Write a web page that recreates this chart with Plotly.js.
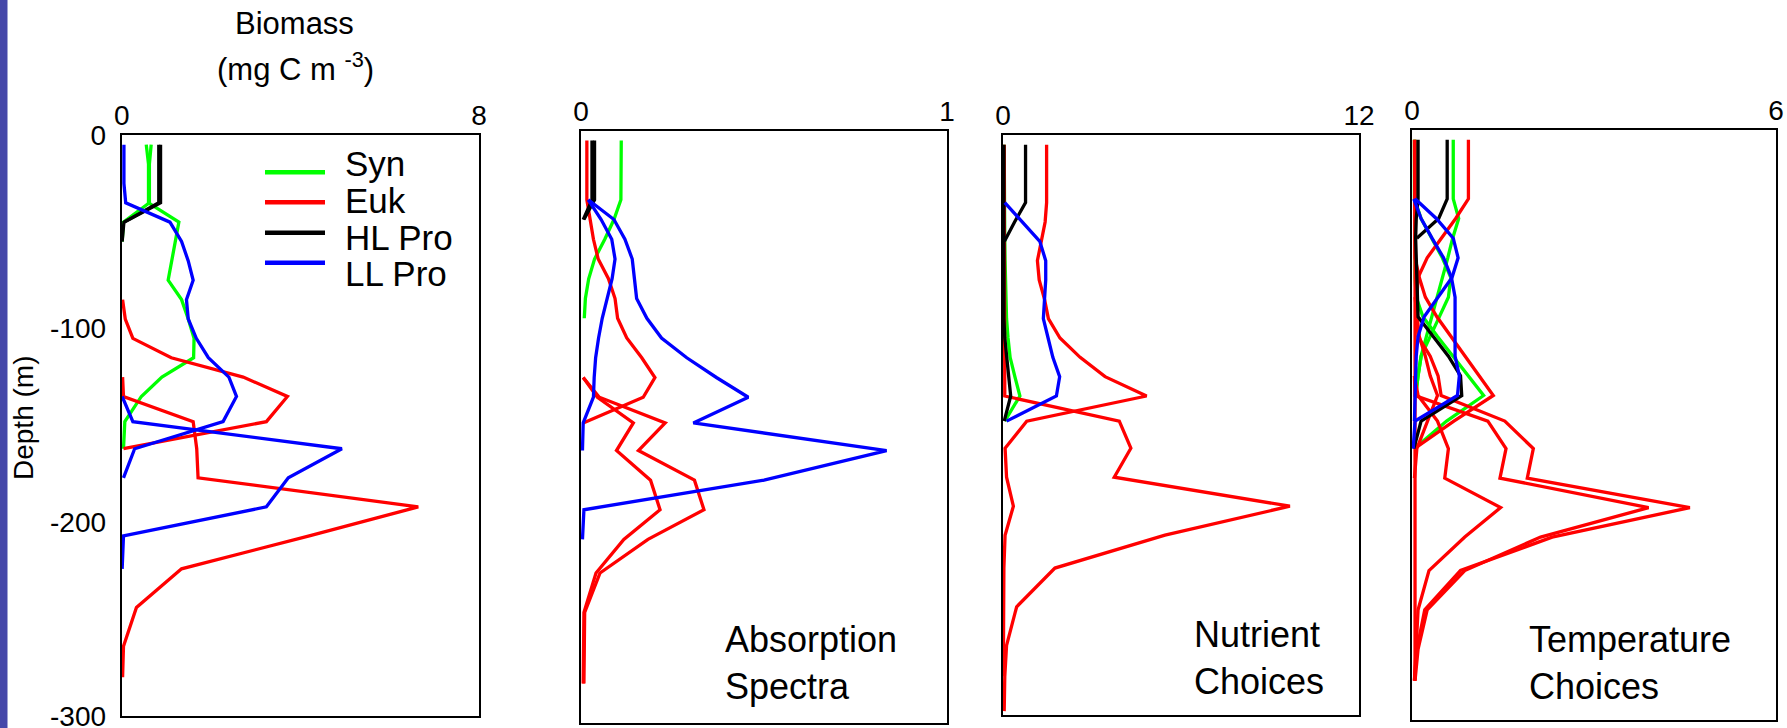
<!DOCTYPE html>
<html><head><meta charset="utf-8">
<script src="https://cdn.plot.ly/plotly-3.0.1.min.js"></script>
<style>html,body{margin:0;padding:0;background:#fff;overflow:hidden}#chart{width:1787px;height:728px}</style>
</head><body><div id="chart"></div>
<script>
const N = null;
// model depth levels (m)
const depth = [-5,-15,-25,-35,-45,-55,-65,-75,-85,-95,-105,-115,-125,-135,-148,-162,-177,-192,-207,-224,-244,-264,-280,-298];

// Panel 1: Biomass (mg C m-3)
const bioSyn1 = [.55,.6,.6,.6,1.28,1.2,1.12,1.04,1.34,1.49,1.62,1.61,.9,.44,.07,.04,N,N,N,N,N,N,N,N];
const bioSyn2 = [.66,.62,.62,.62,.04,.01,N,N,N,N,N,N,N,N,N,N,N,N,N,N,N,N,N,N];
const bioEuk1 = [N,N,N,N,N,N,N,N,.02,.08,.25,1.11,2.72,3.71,3.24,.04,N,N,N,N,N,N,N,N];
const bioEuk2 = [N,N,N,N,N,N,N,N,N,N,N,N,.02,.04,1.6,1.68,1.71,6.64,4.2,1.34,.33,.04,.02,N];
const bioHL1  = [.83,.83,.83,.83,.05,.01,N,N,N,N,N,N,N,N,N,N,N,N,N,N,N,N,N,N];
const bioHL2  = [.87,.87,.87,.87,.06,N,N,N,N,N,N,N,N,N,N,N,N,N,N,N,N,N,N,N];
const bioLL1  = [.05,.05,.05,.09,1.08,1.34,1.49,1.6,1.45,1.49,1.67,1.94,2.4,2.57,2.27,.29,.04,N,N,N,N,N,N,N];
const bioLL2  = [N,N,N,N,N,N,N,N,N,N,N,N,N,.01,.25,4.93,3.73,3.24,.04,.01,N,N,N,N];

// Panel 2: Absorption Spectra
const absSyn1 = [.11,.109,.109,.109,.09,.065,.037,.021,.012,.009,N,N,N,N,N,N,N,N,N,N,N,N,N,N];
const absEuk1 = [.016,.016,.016,.016,.025,.034,.047,.075,.093,.1,.125,.166,.202,.17,.006,N,N,N,N,N,N,N,N,N];
const absEuk2 = [N,N,N,N,N,N,N,N,N,N,N,N,.006,.05,.23,.157,.31,.336,.183,.052,.01,.008,.008,N];
const absEuk3 = [N,N,N,N,N,N,N,N,N,N,N,N,.006,.045,.143,.097,.19,.216,.117,.041,.008,.006,.006,N];
const absHL1  = [.030,.030,.030,.030,.006,N,N,N,N,N,N,N,N,N,N,N,N,N,N,N,N,N,N,N];
const absHL2  = [.037,.037,.037,.037,.008,N,N,N,N,N,N,N,N,N,N,N,N,N,N,N,N,N,N,N];
const absLL1  = [N,N,N,.02,.09,.12,.14,.146,.152,.18,.22,.289,.37,.457,.307,.835,.5,.008,.004,N,N,N,N,N];
const absLL2  = [N,N,N,.02,.055,.084,.093,.085,.072,.058,.048,.04,.036,.034,.006,.004,N,N,N,N,N,N,N,N];

// Panel 3: Nutrient Choices
const nutSyn1 = [.04,.04,.04,.04,.05,.06,.07,.08,.1,.12,.17,.24,.4,.57,.06,N,N,N,N,N,N,N,N,N];
const nutEuk1 = [1.47,1.47,1.47,1.47,1.42,1.3,1.16,1.22,1.4,1.53,1.92,2.6,3.44,4.84,.8,.07,.12,.35,.07,.03,.02,.01,.01,N];
const nutEuk2 = [.04,.04,.04,.04,.04,.04,.04,.04,.04,.04,.04,.04,.05,.06,3.92,4.31,3.75,9.67,5.46,1.75,.46,.12,.06,.04];
const nutHL1  = [.76,.76,.76,.76,.39,.05,N,N,N,N,N,N,N,N,N,N,N,N,N,N,N,N,N,N];
const nutHL2  = [.03,.03,.03,.03,.03,.03,.03,.03,.03,.03,.06,.12,.2,.26,.04,N,N,N,N,N,N,N,N,N];
const nutLL1  = [N,N,N,.06,.65,1.24,1.44,1.44,1.4,1.36,1.52,1.68,1.91,1.8,.12,N,N,N,N,N,N,N,N,N];

// Panel 4: Temperature Choices
const tmpSyn1 = [.68,.68,.68,.68,.77,.67,.59,.5,.42,.33,.24,.15,.1,.06,N,N,N,N,N,N,N,N,N,N];
const tmpSyn2 = [.04,.04,.04,.04,.15,.32,.5,.64,.6,.45,.3,.15,.1,.06,N,N,N,N,N,N,N,N,N,N];
const tmpSyn3 = [.05,.05,.05,.05,.05,.05,.05,.05,.07,.18,.42,.67,.93,1.18,.57,.04,N,N,N,N,N,N,N,N];
const tmpEuk1 = [.93,.93,.93,.93,.72,.48,.25,.1,.08,.08,.1,.3,.43,.48,1.53,2.0,1.9,4.58,2.31,.8,.21,.08,.04,N];
const tmpEuk2 = [.04,.04,.04,.04,.04,.04,.05,.12,.22,.41,.64,.88,1.11,1.34,.69,.04,N,N,N,N,N,N,N,N];
const tmpEuk3 = [N,N,N,N,N,N,N,N,N,N,N,N,.04,.05,1.25,1.55,1.45,3.9,2.12,.87,.25,.1,.05,N];
const tmpEuk4 = [N,N,N,N,N,N,N,N,N,N,N,N,.04,.1,.42,.6,.54,1.46,.87,.28,.1,.06,.04,N];
const tmpEuk5 = [.05,.05,.05,.05,.05,.05,.05,.05,.05,.05,.05,.05,.05,.05,.05,.05,.05,.05,.05,.05,.05,.05,.05,N];
const tmpEuk6 = [N,N,N,N,N,N,N,N,.05,.08,.12,.22,.3,.42,.25,.08,.04,N,N,N,N,N,N,N];
const tmpHL1  = [.58,.58,.58,.58,.44,.08,N,N,N,N,N,N,N,N,N,N,N,N,N,N,N,N,N,N];
const tmpHL2  = [.1,.1,.1,.1,.07,.06,.07,.08,.09,.1,.35,.6,.8,.82,.15,.03,N,N,N,N,N,N,N,N];
const tmpLL1  = [N,N,N,.05,.4,.68,.76,.66,.43,.2,.1,.07,.06,.05,.04,N,N,N,N,N,N,N,N,N];
const tmpLL2  = [N,N,N,.03,.15,.33,.52,.65,.71,.71,.71,.71,.78,.75,.05,.02,N,N,N,N,N,N,N,N];

// axis tick labels
const xTickVals = [[0,8],[0,1],[0,12],[0,6]];
const yTickVals = [0,-100,-200,-300];
const yTickText = ['0','-100','-200','-300'];
const legendLabels = ['Syn','Euk','HL Pro','LL Pro'];
const panelLabels = ['Absorption<br>Spectra','Nutrient<br>Choices','Temperature<br>Choices'];

const COL = {syn:'#00ff00', euk:'#ff0000', hl:'#000000', ll:'#0000ff'};
const W = 1787, H = 728;
const FONT = 'Liberation Sans, Arial, Helvetica, sans-serif';

const panels = [
  [[bioSyn1,'syn'],[bioSyn2,'syn'],[bioEuk1,'euk'],[bioEuk2,'euk'],[bioHL1,'hl'],[bioHL2,'hl'],[bioLL1,'ll'],[bioLL2,'ll']],
  [[absSyn1,'syn'],[absEuk1,'euk'],[absEuk2,'euk'],[absEuk3,'euk'],[absHL1,'hl'],[absHL2,'hl'],[absLL1,'ll'],[absLL2,'ll']],
  [[nutSyn1,'syn'],[nutEuk1,'euk'],[nutEuk2,'euk'],[nutHL1,'hl'],[nutHL2,'hl'],[nutLL1,'ll']],
  [[tmpSyn1,'syn'],[tmpSyn2,'syn'],[tmpSyn3,'syn'],[tmpEuk1,'euk'],[tmpEuk2,'euk'],[tmpEuk3,'euk'],[tmpEuk4,'euk'],[tmpEuk5,'euk'],[tmpEuk6,'euk'],[tmpHL1,'hl'],[tmpHL2,'hl'],[tmpLL1,'ll'],[tmpLL2,'ll']]
];

// box pixel positions of each panel [left, right, top, bottom]
const boxes = [[121.7,479,135,716],[581,947,130.7,723],[1003,1359,135,715],[1412,1776,130,720]];

const traces = [];
panels.forEach((list, i) => {
  const sfx = i === 0 ? '' : String(i + 1);
  list.forEach(([vals, kind]) => {
    traces.push({x: vals, y: depth, type: 'scatter', mode: 'lines',
      line: {color: COL[kind], width: 3.3}, xaxis: 'x' + sfx, yaxis: 'y' + sfx,
      hoverinfo: 'skip', showlegend: false});
  });
});

const layout = {width: W, height: H, margin: {l:0, r:0, t:0, b:0, pad:0},
  paper_bgcolor: '#fff', plot_bgcolor: '#fff', showlegend: false,
  font: {family: FONT, color: '#000'}, shapes: [], annotations: []};

boxes.forEach((b, i) => {
  const sfx = i === 0 ? '' : String(i + 1);
  layout['xaxis' + sfx] = {domain: [b[0]/W, b[1]/W], range: [xTickVals[i][0], xTickVals[i][1]],
    side: 'top', anchor: 'y' + sfx, tickmode: 'array', tickvals: xTickVals[i],
    ticktext: xTickVals[i].map(String), ticks: '', ticklabelstandoff: -3, ticklabeloverflow: 'allow',
    showgrid: false, zeroline: false, showline: true, mirror: true, linecolor: '#000', linewidth: 2,
    tickfont: {size: 28, family: FONT, color: '#000'}, fixedrange: true};
  layout['yaxis' + sfx] = {domain: [1 - b[3]/H, 1 - b[2]/H], range: [-300, 0],
    anchor: 'x' + sfx, tickmode: 'array', tickvals: yTickVals, ticktext: yTickText,
    showticklabels: i === 0, ticks: '', ticklabelstandoff: 8, ticklabeloverflow: 'allow',
    showgrid: false, zeroline: false, showline: true, mirror: true, linecolor: '#000', linewidth: 2,
    tickfont: {size: 28, family: FONT, color: '#000'}, fixedrange: true};
});

// left blue strip
layout.shapes.push({type:'rect', xref:'paper', yref:'paper', x0:0, x1:7.5/W, y0:0, y1:1,
  fillcolor:'#4547a9', line:{width:0}, layer:'below'});

// legend (swatches + labels)
const legendKinds = ['syn','euk','hl','ll'];
const swatchY = [172.3, 202.3, 232.7, 262.7];
const labelY = [164, 200, 237.5, 273.3];
legendLabels.forEach((lab, k) => {
  layout.shapes.push({type:'line', xref:'paper', yref:'paper', x0:265/W, x1:325/W,
    y0:1-swatchY[k]/H, y1:1-swatchY[k]/H, line:{color:COL[legendKinds[k]], width:4.5}});
  layout.annotations.push({text: lab, xref:'paper', yref:'paper', x:343/W, y:1-labelY[k]/H,
    xanchor:'left', yanchor:'middle', showarrow:false, font:{size:35, family:FONT, color:'#000'}});
});

// titles
layout.annotations.push({text:'Biomass', xref:'paper', yref:'paper', x:294/W, y:1-23.5/H,
  xanchor:'center', yanchor:'middle', showarrow:false, font:{size:31, family:FONT, color:'#000'}});
layout.annotations.push({text:'(mg C m <sup>-3</sup>)', xref:'paper', yref:'paper', x:295/W, y:1-67/H,
  xanchor:'center', yanchor:'middle', showarrow:false, font:{size:31, family:FONT, color:'#000'}});
layout.annotations.push({text:'Depth (m)', xref:'paper', yref:'paper', x:24/W, y:1-418/H, textangle:-90,
  xanchor:'center', yanchor:'middle', showarrow:false, font:{size:28, family:FONT, color:'#000'}});

const labelPos = [[723, 663.3],[1192, 658],[1527, 663.3]];
panelLabels.forEach((t, k) => {
  layout.annotations.push({text:t, xref:'paper', yref:'paper', x:labelPos[k][0]/W, y:1-labelPos[k][1]/H,
    xanchor:'left', yanchor:'middle', align:'left', showarrow:false, font:{size:36, family:FONT, color:'#000'}});
});

Plotly.newPlot('chart', traces, layout, {staticPlot: true, displayModeBar: false});
</script></body></html>
